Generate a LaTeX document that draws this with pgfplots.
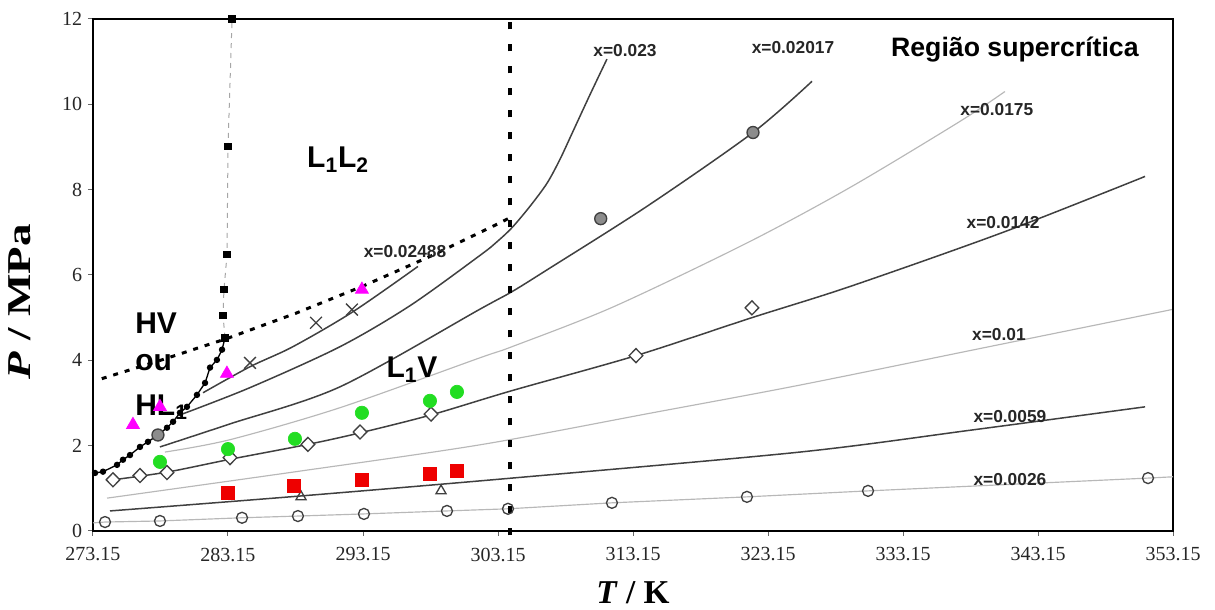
\documentclass[border=0pt]{standalone}
\usepackage{graphicx}
\usepackage{pgfplots}
\pgfplotsset{compat=1.18}
\usepackage{fontspec}
\setmainfont{Liberation Serif}
\newfontfamily\arial{Liberation Sans}
\definecolor{dk}{HTML}{404040}
\definecolor{lt}{HTML}{B8B8B8}
\definecolor{mag}{HTML}{FF00FF}
\definecolor{grn}{HTML}{22DD22}
\definecolor{rd}{HTML}{EE0000}
\begin{document}
\begin{tikzpicture}
\useasboundingbox (-55.8pt,-47.4pt) rectangle (673.2pt,318.6pt);
\begin{axis}[
  name=ax, at={(0,0)}, anchor=south west,
  scale only axis, width=648pt, height=307.2pt,
  xmin=273.15, xmax=353.15, ymin=0, ymax=12,
  xtick={273.15,283.15,293.15,303.15,313.15,323.15,333.15,343.15,353.15},
  xticklabels={273.15,283.15,293.15,303.15,313.15,323.15,333.15,343.15,353.15},
  ytick={0,2,4,6,8,10,12},
  yticklabels={0,2,4,6,8,10,12},
  xtick pos=bottom, ytick pos=left,
  tick align=outside, major tick length=3pt,
  tick style={black!60, line width=0.6pt},
  axis line style={line width=1.5pt},
  ticklabel style={font=\fontsize{12}{14}\selectfont, text=black!85},
  xticklabel style={yshift=-3.5pt},
  clip=false,
]
% 0.0026
\addplot[lt, line width=0.7pt] coordinates {(273.15,0.19)(274.04,0.21)(278.11,0.235)(284.19,0.31)(288.33,0.35)(293.22,0.40)(299.37,0.47)(303.89,0.52)(311.59,0.66)(321.59,0.80)(330.56,0.94)(351.30,1.24)(353.15,1.27)};
% 0.0059
\addplot[dk, line width=0.9pt, smooth] coordinates {(274.41,0.47)(288.5,0.82)(304.19,1.24)(325.52,1.85)(338.33,2.37)(351.08,2.91)};
% 0.01
\addplot[lt, line width=0.7pt, smooth] coordinates {(274.19,0.77)(287.96,1.38)(301.82,2.02)(314.41,2.76)(325.52,3.42)(340,4.35)(353.07,5.19)};
% 0.0142
\addplot[dk, line width=0.9pt, smooth] coordinates {(274.63,1.20)(278.63,1.38)(283.3,1.68)(289.07,2.03)(292.93,2.30)(298.19,2.72)(304.19,3.29)(313.37,4.11)(321.96,5.0)(329.22,5.73)(340.56,7.0)(351.08,8.31)};
% 0.0175
\addplot[lt, line width=0.7pt, smooth] coordinates {(278.48,1.85)(283.30,2.14)(291.45,2.89)(301.82,4.06)(304.19,4.32)(311.67,5.25)(321.59,6.75)(329.22,8.05)(337.37,9.6)(340.70,10.3)};
% 0.02017
\addplot[dk, line width=0.9pt, smooth] coordinates {(278.11,1.97)(283.30,2.51)(291.45,3.38)(301.82,5.20)(304.19,5.61)(306.78,6.12)(314.19,7.61)(322.04,9.34)(326.41,10.54)};
% 0.023
\addplot[dk, line width=0.9pt, smooth] coordinates {(279.59,2.72)(284.78,3.36)(291.45,4.32)(296.63,5.28)(301.82,6.46)(303.08,6.78)(304.19,7.11)(305.52,7.61)(306.78,8.15)(307.74,8.71)(308.71,9.37)(309.97,10.23)(311.22,11.06)};
% 0.02488
\addplot[dk, line width=0.9pt, smooth] coordinates {(281.30,3.24)(284.78,3.85)(287.96,4.32)(292.41,5.14)(297.22,6.20)};
% CO2 vapour pressure (dashed)
\addplot[black, line width=1.8pt, dash pattern=on 3pt off 4.2pt] coordinates {(273.8,3.57)(278.15,4.00)(283.15,4.52)(288.15,5.10)(293.15,5.74)(298.15,6.44)(303.15,7.2)(304.2,7.37)};
% critical temperature
\addplot[black, line width=2.4pt, dash pattern=on 4.5pt off 8.7pt] coordinates {(304.04,-0.1)(304.04,12.25)};
% hydrate curve
\addplot[black, line width=0.8pt, mark=*, mark size=1.5pt] coordinates {(273.30,1.36)(273.89,1.39)(274.93,1.55)(275.37,1.67)(275.89,1.78)(276.63,1.97)(277.22,2.09)(277.96,2.25)(278.63,2.42)(279.08,2.56)(279.59,2.77)(280.11,2.91)(280.85,3.19)(281.45,3.47)(281.82,3.83)(282.33,4.01)(282.71,4.25)(282.93,4.53)};
% Q2 vertical
\addplot[black!35, dashed, line width=0.6pt, mark=square*, mark options={solid, black, fill=black}, mark size=2pt] coordinates {(282.93,4.53)(282.78,5.05)(282.85,5.66)(283.08,6.48)(283.15,9.01)(283.45,12.0)};
% markers
\addplot[only marks, mark=o, mark size=3.3pt, mark options={dk, line width=0.8pt}] coordinates {(274.04,0.21)(278.11,0.235)(284.19,0.31)(288.33,0.35)(293.22,0.40)(299.37,0.47)(303.89,0.52)(311.59,0.66)(321.59,0.80)(330.56,0.94)(351.30,1.24)};
\addplot[only marks, mark=triangle, mark size=3.5pt, mark options={dk, line width=0.8pt}] coordinates {(288.56,0.80)(298.93,0.94)};
\addplot[only marks, mark=square*, mark size=4pt, mark options={rd, fill=rd}] coordinates {(283.15,0.89)(288.04,1.06)(293.07,1.20)(298.11,1.34)(300.11,1.41)};
\addplot[only marks, mark=diamond*, mark size=4.2pt, mark options={draw=dk, fill=white, line width=0.8pt, xscale=1.3}] coordinates {(274.63,1.20)(276.63,1.30)(278.63,1.37)(283.30,1.72)(289.07,2.03)(292.93,2.32)(298.19,2.74)(313.37,4.11)(321.96,5.23)};
\addplot[only marks, mark=*, mark size=4pt, mark options={grn, fill=grn}] coordinates {(278.11,1.62)(283.15,1.92)(288.11,2.16)(293.07,2.77)(298.11,3.05)(300.11,3.26)};
\addplot[only marks, mark=triangle*, mark size=4.5pt, mark options={mag, fill=mag}] coordinates {(276.11,2.49)(278.11,2.91)(283.07,3.69)(293.07,5.66)};
\addplot[only marks, mark=*, mark size=3.6pt, mark options={draw=dk, fill=black!45, line width=0.8pt}] coordinates {(277.96,2.25)(310.76,7.32)(322.04,9.34)};
\addplot[only marks, mark=x, mark size=5pt, mark options={dk, line width=0.8pt}] coordinates {(284.78,3.94)(289.67,4.88)(292.33,5.19)};
% labels
\begin{scope}[every node/.style={font=\arial\bfseries\fontsize{10.4}{12}\selectfont, text=black!85, inner sep=0pt}]
\node at (axis cs:296.26,6.55) {x=0.02488};
\node at (axis cs:312.56,11.27) {x=0.023};
\node at (axis cs:325.0,11.34) {x=0.02017};
\node at (axis cs:340.1,9.88) {x=0.0175};
\node at (axis cs:340.56,7.23) {x=0.0142};
\node at (axis cs:340.26,4.60) {x=0.01};
\node at (axis cs:341.07,2.68) {x=0.0059};
\node at (axis cs:341.07,1.20) {x=0.0026};
\end{scope}
\begin{scope}[every node/.style={font=\arial\bfseries\fontsize{18}{22}\selectfont, inner sep=0pt}]
\node at (axis cs:341.44,11.29) {\fontsize{16}{19}\selectfont Região supercrítica};
\node at (axis cs:291.3,8.7) {L\textsubscript{1}L\textsubscript{2}};
\node at (axis cs:296.78,3.78) {L\textsubscript{1}V};
\node[anchor=west] at (axis cs:276.26,4.88) {HV};
\node[anchor=west] at (axis cs:276.26,3.95) {ou};
\node[anchor=west] at (axis cs:276.26,2.90) {HL\textsubscript{1}};
\end{scope}
\node[font=\fontsize{20}{24}\selectfont\bfseries] at ([yshift=-37pt]rel axis cs:0.5,0) {\textit{T} / K};
\node[rotate=90, font=\fontsize{20}{24}\selectfont\bfseries] at ([xshift=-43.8pt]rel axis cs:0,0.448) {\scalebox{1.35}[1]{\textit{P} / MPa}};
\end{axis}
\end{tikzpicture}
\end{document}
